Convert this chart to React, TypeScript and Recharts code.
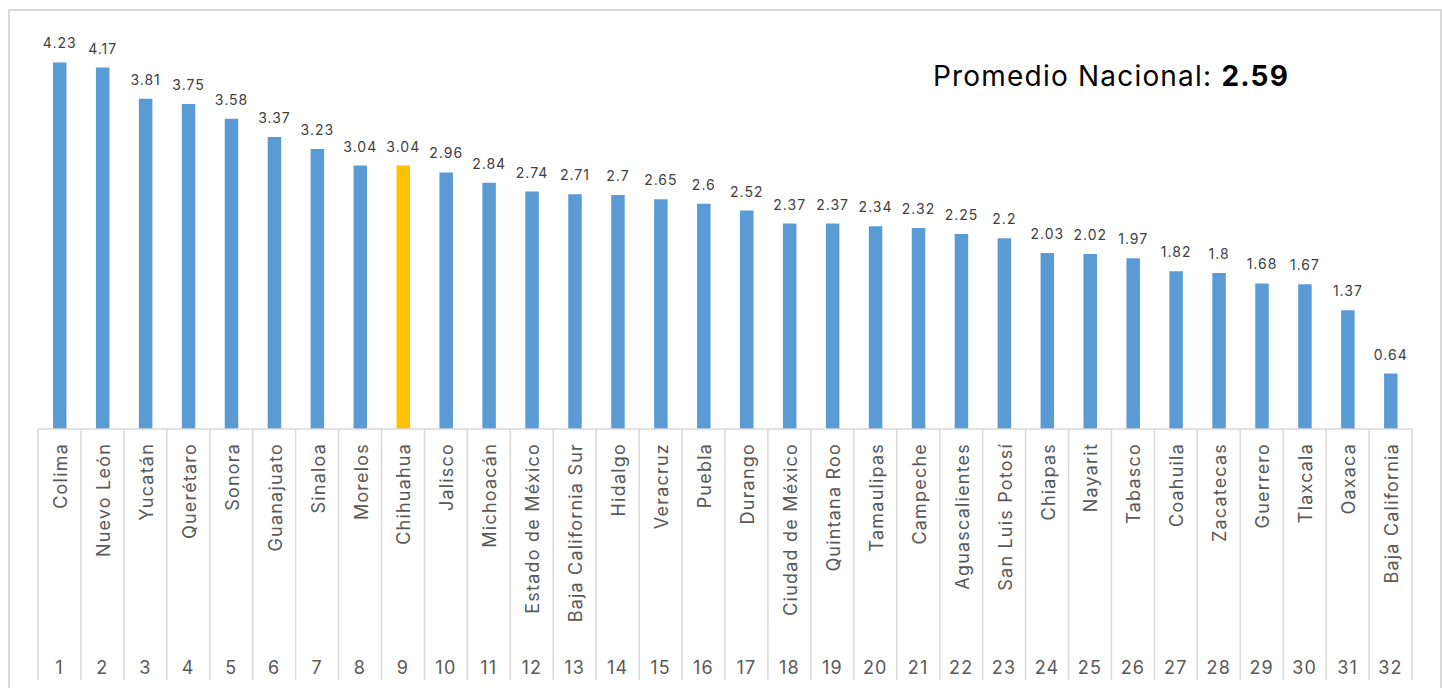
import React from "react";
import { BarChart, Bar, XAxis, YAxis, Cell, LabelList } from "recharts";

const states: string[] = [
  "Colima", "Nuevo León", "Yucatán", "Querétaro", "Sonora", "Guanajuato", "Sinaloa", "Morelos",
  "Chihuahua", "Jalisco", "Michoacán", "Estado de México", "Baja California Sur", "Hidalgo",
  "Veracruz", "Puebla", "Durango", "Ciudad de México", "Quintana Roo", "Tamaulipas", "Campeche",
  "Aguascalientes", "San Luis Potosí", "Chiapas", "Nayarit", "Tabasco", "Coahuila", "Zacatecas",
  "Guerrero", "Tlaxcala", "Oaxaca", "Baja California",
];
const values: number[] = [
  4.23, 4.17, 3.81, 3.75, 3.58, 3.37, 3.23, 3.04, 3.04, 2.96, 2.84, 2.74, 2.71, 2.7, 2.65, 2.6,
  2.52, 2.37, 2.37, 2.34, 2.32, 2.25, 2.2, 2.03, 2.02, 1.97, 1.82, 1.8, 1.68, 1.67, 1.37, 0.64,
];
const ranks: string[] = states.map((_, i) => String(i + 1));
const highlight = "Chihuahua";
const nationalAverage = "2.59";

const data = states.map((name, i) => ({ name, value: values[i], rank: ranks[i] }));

const W = 1442;
const H = 688;
const LEFT = 38;
const RIGHT_EDGE = 1412;
const TOP = 39;
const BASE = 429;
const STEP = (RIGHT_EDGE - LEFT) / states.length;
const FONT = "Inter, 'Open Sans', sans-serif";

const Tick = (props: any) => {
  const { x, payload, index } = props;
  const d = data[index];
  return (
    <g>
      <line x1={x - STEP / 2} x2={x - STEP / 2} y1={BASE} y2={680} stroke="#D9D9D9" strokeWidth={1.5} />
      {index === states.length - 1 && (
        <line x1={x + STEP / 2} x2={x + STEP / 2} y1={BASE} y2={680} stroke="#D9D9D9" strokeWidth={1.5} />
      )}
      <text
        transform={`translate(${x + 1},443) rotate(-90)`}
        textAnchor="end"
        dominantBaseline="central"
        fontSize={18}
        letterSpacing={1.2}
        fill="#595959"
        fontFamily={FONT}
      >
        {payload.value}
      </text>
      <text x={x} y={674} textAnchor="middle" fontSize={18} letterSpacing={1.2} fill="#595959" fontFamily={FONT}>
        {d ? d.rank : ""}
      </text>
    </g>
  );
};

export default function App() {
  return (
    <div style={{ position: "absolute", left: 0, top: 0, width: W, height: H, background: "#fff", overflow: "hidden" }}>
      <div
        style={{
          position: "absolute",
          left: 8,
          top: 9,
          width: 1434,
          height: 720,
          border: "2px solid #D9D9D9",
          boxSizing: "border-box",
        }}
      />
      <BarChart
        width={W}
        height={H}
        data={data}
        margin={{ top: TOP, right: W - RIGHT_EDGE, bottom: 0, left: LEFT }}
        barCategoryGap={0}
      >
        <YAxis hide width={0} domain={[0, 4.5]} />
        <XAxis
          dataKey="name"
          interval={0}
          height={H - BASE}
          axisLine={{ stroke: "#D9D9D9", strokeWidth: 1.5 }}
          tickLine={false}
          tick={<Tick />}
        />
        <Bar dataKey="value" barSize={13.5} isAnimationActive={false}>
          {data.map((d) => (
            <Cell key={d.name} fill={d.name === highlight ? "#FFC000" : "#5B9BD5"} />
          ))}
          <LabelList
            dataKey="value"
            position="top"
            offset={14}
            fontSize={14}
            letterSpacing={1}
            fill="#404040"
            fontFamily={FONT}
          />
        </Bar>
      </BarChart>
      <svg style={{ position: "absolute", left: 0, top: 0 }} width={W} height={H} pointerEvents="none">
        <text x={933} y={86} fontSize={28} letterSpacing={1.2} fill="#000" fontFamily={FONT}>
          Promedio Nacional: <tspan fontWeight={700}>{nationalAverage}</tspan>
        </text>
      </svg>
    </div>
  );
}
